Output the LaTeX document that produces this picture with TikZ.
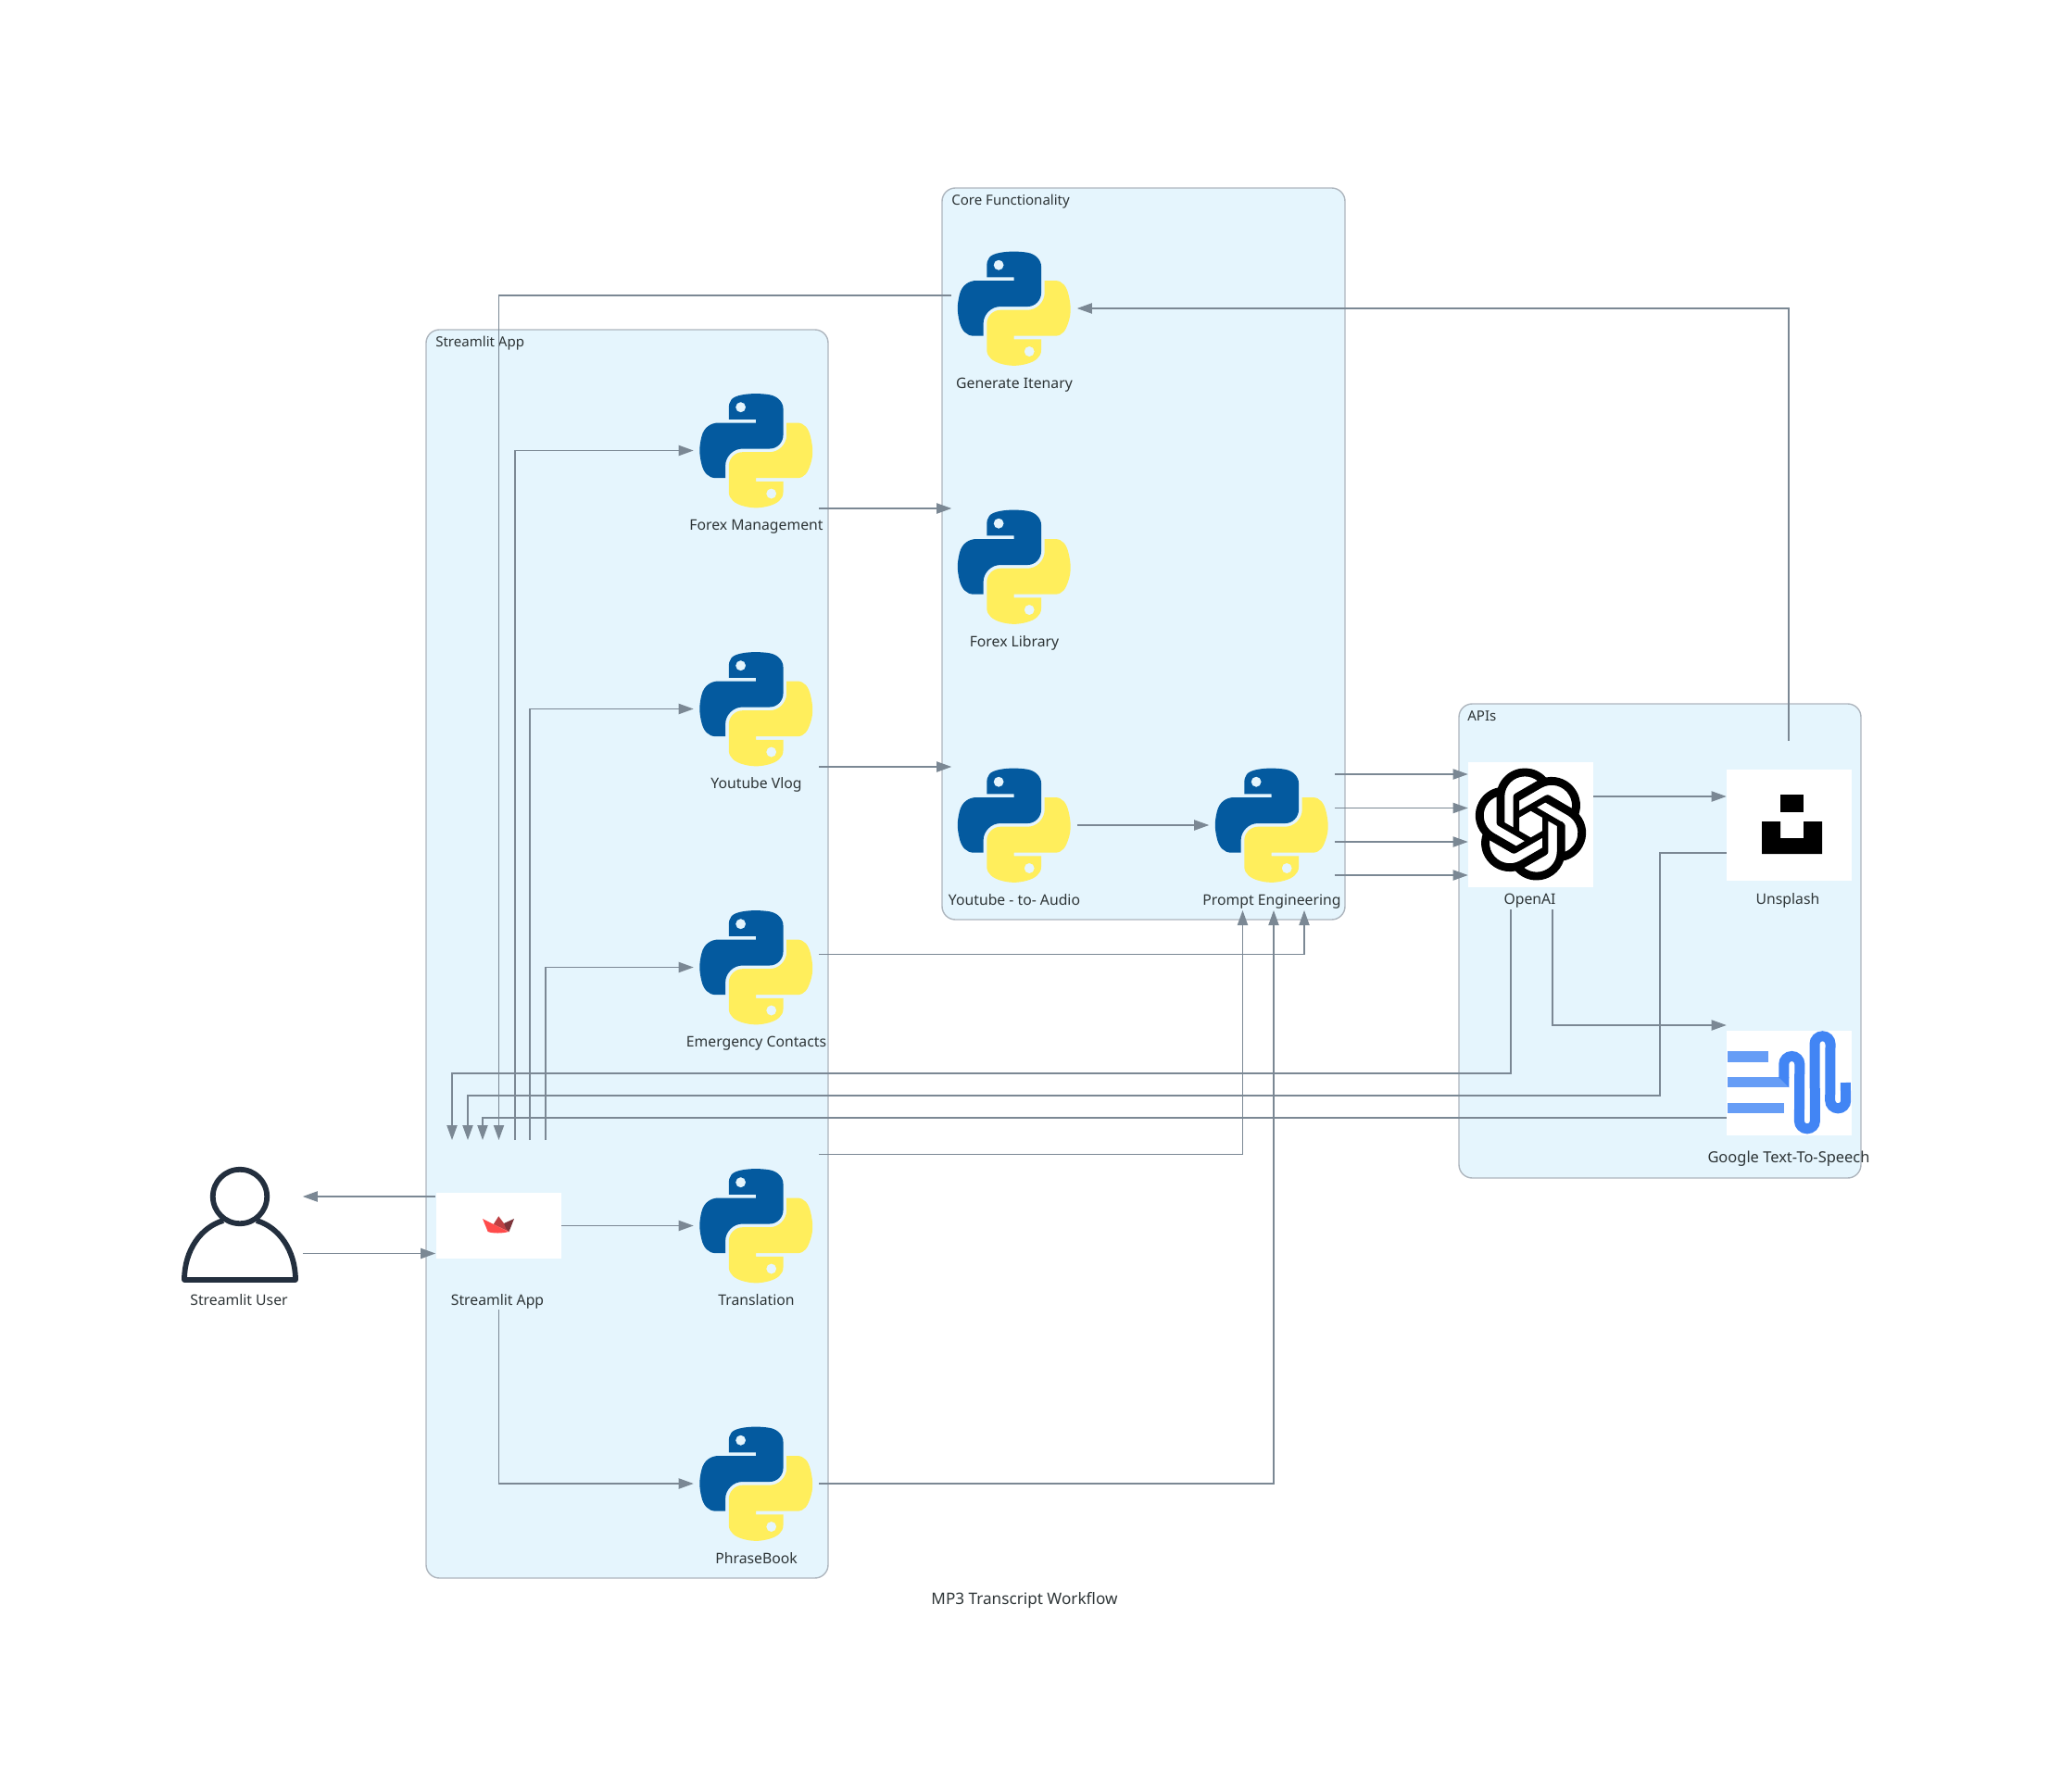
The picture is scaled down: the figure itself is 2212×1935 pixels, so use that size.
\documentclass[tikz,border=0pt]{standalone}
\usepackage{fontspec}
\setmainfont{Noto Sans}
\usetikzlibrary{calc,arrows.meta,svg.path}
\definecolor{clusterfill}{HTML}{E5F5FD}
\definecolor{clusterline}{HTML}{AEB6BE}
\definecolor{edgegrey}{HTML}{7B8894}
\definecolor{inktext}{HTML}{2D3436}
\definecolor{pyblue}{HTML}{045A9F}
\definecolor{pyyellow}{HTML}{FFEE5C}
\definecolor{userink}{HTML}{232F3E}
\definecolor{crownlight}{HTML}{FF4B4B}
\definecolor{crownmid}{HTML}{BD4043}
\definecolor{crowndark}{HTML}{7D353B}
\definecolor{ttsbar}{HTML}{669DF6}
\definecolor{ttswave}{HTML}{4285F4}
\tikzset{
  pylogo/.pic={
    \fill[pyblue,even odd rule,scale=0.78,yscale=-1,shift={(-55.8pt,-56pt)}] svg {M 54.918785 0.0009 C 50.335132 0.02221727 45.957846 0.41313697 42.106285 1.0946693 30.760069 3.0991731 28.700036 7.2947714 28.700035 15.032169 v 10.21875 h 26.8125 v 3.40625 h -26.8125 -10.0625 c -7.792459 0 -14.6157588 4.683717 -16.7499998 13.59375 -2.46181998 10.212966 -2.57101508 16.586023 0 27.25 1.9059283 7.937852 6.4575432 13.593748 14.2499998 13.59375 h 9.21875 v -12.25 c 0 -8.849902 7.657144 -16.656248 16.75 -16.65625 h 26.78125 c 7.454951 0 13.406253 -6.138164 13.40625 -13.625 v -25.53125 c 0 -7.2663386 -6.12998 -12.7247771 -13.40625 -13.9374997 C 64.281548 0.32794397 59.502438 -0.02037903 54.918785 0.0009 Z M 40.418785 8.2197 c 2.769547 0 5.03125 2.2986456 5.03125 5.1249996 0 2.816336 -2.261703 5.09375 -5.03125 5.09375 -2.779476 0 -5.03125 -2.277415 -5.03125 -5.09375 0 -2.826353 2.251774 -5.1249996 5.03125 -5.1249996 Z};
    \fill[pyyellow,even odd rule,scale=0.78,yscale=-1,shift={(-55.8pt,-56pt)}] svg {M 85.637535 28.657169 v 11.90625 c 0 9.230755 -7.825895 16.999999 -16.75 17 h -26.78125 c -7.335833 0 -13.406249 6.278483 -13.40625 13.625 v 25.531247 c 0 7.266344 6.318588 11.540324 13.40625 13.625004 8.487331 2.49561 16.626237 2.94663 26.78125 0 6.750155 -1.95439 13.406253 -5.88761 13.40625 -13.625004 V 86.500919 h -26.78125 v -3.40625 h 26.78125 13.406254 c 7.792461 0 10.696251 -5.435408 13.406241 -13.59375 2.79933 -8.398886 2.68022 -16.475776 0 -27.25 -1.92578 -7.757441 -5.60387 -13.59375 -13.406241 -13.59375 Z M 70.575035 93.3134 c 2.779478 0 5.03125 2.277417 5.03125 5.093747 0 2.826354 -2.251775 5.125004 -5.03125 5.125004 -2.76955 0 -5.03125 -2.29865 -5.03125 -5.125004 0 -2.81633 2.261697 -5.093747 5.03125 -5.093747 Z};
  }
}
\begin{document}
\begin{tikzpicture}[
  x=0.25mm,y=-0.25mm,
  cluster/.style={rectangle,draw=clusterline,fill=clusterfill,line width=0.35mm,rounded corners=3.6mm,inner sep=0pt},
  clustertext/.style={text=inktext,font=\fontsize{10.7pt}{12pt}\selectfont,anchor=west,inner sep=0pt},
  logonode/.style={rectangle,inner sep=0pt,minimum size=33.75mm},
  whitebox/.style={rectangle,fill=white,inner sep=0pt,minimum width=33.75mm},
  nodetext/.style={text=inktext,font=\fontsize{11.2pt}{12pt}\selectfont,inner sep=0pt,text height=9pt,text depth=2.5pt},
  flow/.style={draw=edgegrey,line width=0.32mm,-{Triangle[length=4mm,width=2.8mm,fill=edgegrey]}},
]
\useasboundingbox (0,0) rectangle (2212,1935);

\draw[cluster] (460,356) rectangle (894,1704);
\draw[cluster] (1017,203) rectangle (1452,993);
\draw[cluster] (1575,760) rectangle (2009,1272);
\node[clustertext] (appcaption) at (470,370.5) {Streamlit App};
\node[clustertext] (corecaption) at (1027,217.5) {Core Functionality};
\node[clustertext] (apicaption) at (1584,773.5) {APIs};

\foreach \nm/\xx/\yy/\txt in {
  forexmgmt/816.5/486.5/Forex Management,
  vlog/816.5/765.5/Youtube Vlog,
  emergency/816.5/1044.5/Emergency Contacts,
  translation/816.5/1323.5/Translation,
  phrasebook/816.5/1602/PhraseBook,
  itenary/1095/333/Generate Itenary,
  forexlib/1095/612/Forex Library,
  ytaudio/1095/891/Youtube - to- Audio,
  prompt/1373/891/Prompt Engineering}
{
  \node[logonode] (\nm) at (\xx,\yy) {};
  \pic at (\xx,\yy) {pylogo};
  \node[nodetext] (\nm text) at ($(\nm)+(0,81.5)$) {\txt};
}

\node[logonode] (user) at (259,1323.5) {};
\draw[userink,line width=1.45mm] (259,1292) circle (7.3mm);
\draw[userink,line width=1.45mm,line join=round]
  (241,1318) .. controls (217,1325) and (199,1350) .. (199,1382)
  -- (319,1382) .. controls (319,1350) and (301,1325) .. (277,1318);
\node[nodetext] (usertext) at (258,1404.5) {Streamlit User};

\node[whitebox,minimum height=17.75mm] (app) at (538,1323.5) {};
\fill[crownmid] (532.7,1322) -- (538.3,1313.3) -- (544,1321) -- (549.5,1330) -- cycle;
\fill[crowndark] (544,1321) -- (555,1316) -- (549.5,1330) -- (546,1326) -- cycle;
\fill[crownlight] (521,1316) -- (549,1330) .. controls (542,1332) and (532,1332) .. (526.7,1330) -- cycle;
\node[nodetext] (apptext) at (537,1404.5) {Streamlit App};

\node[whitebox,minimum height=33.75mm] (openai) at (1652.5,890.5) {};
\filldraw[black,line width=0.25mm,even odd rule,shift={(1652.5,890)},scale=3.556,yscale=-1,shift={(-12pt,-12pt)}] svg {M 22.2819 9.8211 a 5.9847 5.9847 0 0 0 -0.5157 -4.9108 a 6.0462 6.0462 0 0 0 -6.5098 -2.9 A 6.0651 6.0651 0 0 0 4.9807 4.1818 a 5.9847 5.9847 0 0 0 -3.9977 2.9 a 6.0462 6.0462 0 0 0 0.7427 7.0966 a 5.98 5.98 0 0 0 0.511 4.9107 a 6.051 6.051 0 0 0 6.5146 2.9001 A 5.9847 5.9847 0 0 0 13.2599 24 a 6.0557 6.0557 0 0 0 5.7718 -4.2058 a 5.9894 5.9894 0 0 0 3.9977 -2.9001 a 6.0557 6.0557 0 0 0 -0.7475 -7.0729 z
M 13.2599 22.4292 a 4.4755 4.4755 0 0 1 -2.8764 -1.0408 l 0.1419 -0.0804 l 4.7783 -2.7582 a 0.7948 0.7948 0 0 0 0.3927 -0.6813 v -6.7369 l 2.02 1.1686 a 0.071 0.071 0 0 1 0.038 0.052 v 5.5826 a 4.504 4.504 0 0 1 -4.4945 4.4944 z
M 3.5992 18.3038 a 4.4708 4.4708 0 0 1 -0.5346 -3.0137 l 0.142 0.0852 l 4.783 2.7582 a 0.7712 0.7712 0 0 0 0.7806 0 l 5.8428 -3.3685 v 2.3324 a 0.0804 0.0804 0 0 1 -0.0332 0.0615 L 9.74 19.9502 a 4.4992 4.4992 0 0 1 -6.1408 -1.6464 z
M 2.3408 7.8956 a 4.485 4.485 0 0 1 2.3655 -1.9728 V 11.6 a 0.7664 0.7664 0 0 0 0.3879 0.6765 l 5.8144 3.3543 l -2.0201 1.1685 a 0.0757 0.0757 0 0 1 -0.071 0 l -4.8303 -2.7865 A 4.504 4.504 0 0 1 2.3408 7.872 z
M 18.9371 11.7514 L 13.1038 8.364 L 15.1192 7.2 a 0.0757 0.0757 0 0 1 0.071 0 l 4.8303 2.7913 a 4.4944 4.4944 0 0 1 -0.6765 8.1042 v -5.6772 a 0.79 0.79 0 0 0 -0.407 -0.667 z
M 20.9478 8.7283 l -0.142 -0.0852 l -4.7735 -2.7818 a 0.7759 0.7759 0 0 0 -0.7854 0 L 9.409 9.2297 V 6.8974 a 0.0662 0.0662 0 0 1 0.0284 -0.0615 l 4.8303 -2.7866 a 4.4992 4.4992 0 0 1 6.6802 4.66 z
M 8.3065 12.863 l -2.02 -1.1638 a 0.0804 0.0804 0 0 1 -0.038 -0.0567 V 6.0742 a 4.4992 4.4992 0 0 1 7.3757 -3.4537 l -0.142 0.0805 L 8.704 5.459 a 0.7948 0.7948 0 0 0 -0.3927 0.6813 z
M 9.4041 10.4976 l 2.602 -1.4998 l 2.6069 1.4998 v 2.9994 l -2.5974 1.4997 l -2.6067 -1.4997 Z};
\node[nodetext] (openaitext) at (1651.5,972) {OpenAI};

\node[whitebox,minimum height=30mm] (unsplash) at (1931.5,891) {};
\fill[black] (1922,858) rectangle (1947,877);
\fill[black] (1902,887) -- (1922,887) -- (1922,905) -- (1947,905) -- (1947,887) -- (1967,887) -- (1967,922) -- (1902,922) -- cycle;
\node[nodetext] (unsplashtext) at (1930,972) {Unsplash};

\node[whitebox,minimum height=28.25mm] (tts) at (1931.5,1169.5) {};
\fill[ttsbar] (1865,1135) rectangle (1909,1146.7);
\fill[ttsbar] (1865,1163.3) rectangle (1931,1174.3);
\fill[ttsbar] (1865,1191) rectangle (1925.7,1202);
\draw[ttswave,line width=2.75mm]
  (1925.8,1164) -- (1925.8,1149) arc[start angle=180,end angle=0,radius=2.125mm]
  -- (1942.4,1210.3) arc[start angle=180,end angle=360,radius=2.125mm]
  -- (1959,1127.3) arc[start angle=180,end angle=0,radius=2.125mm]
  -- (1975.7,1188.3) arc[start angle=180,end angle=360,radius=2.125mm] -- (1992.3,1169);
\fill[ttswave] (1920.3,1163.3) -- (1931.3,1163.3) -- (1931.3,1174.3) -- cycle;
\node[nodetext,font=\fontsize{11.7pt}{12pt}\selectfont] (ttstext) at (1931,1251) {Google Text-To-Speech};

\node[text=inktext,font=\fontsize{12.2pt}{13pt}\selectfont,inner sep=0pt] (title) at (1106,1728) {MP3 Transcript Workflow};

\coordinate (fromopenai) at (1631,982);
\coordinate (toapp1) at (488,1231);
\coordinate (toapp2) at (505,1231);
\coordinate (toapp3) at (521,1231);
\coordinate (toapp4) at (538.5,1231);
\coordinate (fromapp1) at (556,1231);
\coordinate (fromapp2) at (572,1231);
\coordinate (fromapp3) at (589,1231);
\coordinate (fromapp4) at (538.5,1414);
\coordinate (promptin1) at (1341.5,983);
\coordinate (promptin2) at (1375,983);
\coordinate (promptin3) at (1408,983);

\draw[flow] ($(itenary.west)+(0,-14)$) -| (toapp4);
\draw[flow] (fromapp1) |- (forexmgmt.west);
\draw[flow] (fromapp2) |- (vlog.west);
\draw[flow] (fromapp3) |- (emergency.west);
\draw[flow] (app.east) -- (translation.west);
\draw[flow] (fromapp4) |- (phrasebook.west);
\draw[flow] ($(user.east)+(0,30)$) -- (app.west |- 0,1353.5);
\draw[flow] (app.west |- 0,1292) -- ($(user.east)+(0,-31.5)$);

\draw[flow] ($(forexmgmt.east)+(0,62.5)$) -- (forexlib.west |- 0,549);
\draw[flow] ($(vlog.east)+(0,62.5)$) -- (ytaudio.west |- 0,828);
\draw[flow] (ytaudio.east) -- (prompt.west);
\draw[flow] ($(emergency.east)+(0,-14)$) -| (promptin3);
\draw[flow] ($(translation.east)+(0,-77)$) -| (promptin1);
\draw[flow] (phrasebook.east) -| (promptin2);

\foreach \yy in {836,872.5,909,945}
  \draw[flow] ($(prompt.east)+(0,\yy-891)$) -- (openai.west |- 0,\yy);

\draw[flow] (openai.east |- 0,860) -- (unsplash.west |- 0,860);
\draw[flow] (1676,982) |- (tts.west |- 0,1107);
\draw[flow] (fromopenai) |- (toapp1 |- 0,1159) -- (toapp1);
\draw[flow] (unsplash.west |- 0,921) -| (1792,1183) -| (toapp2);
\draw[flow] (tts.west |- 0,1207) -| (toapp3);
\draw[flow] (1931,800) |- (itenary.east |- 0,333);

\end{tikzpicture}
\end{document}
